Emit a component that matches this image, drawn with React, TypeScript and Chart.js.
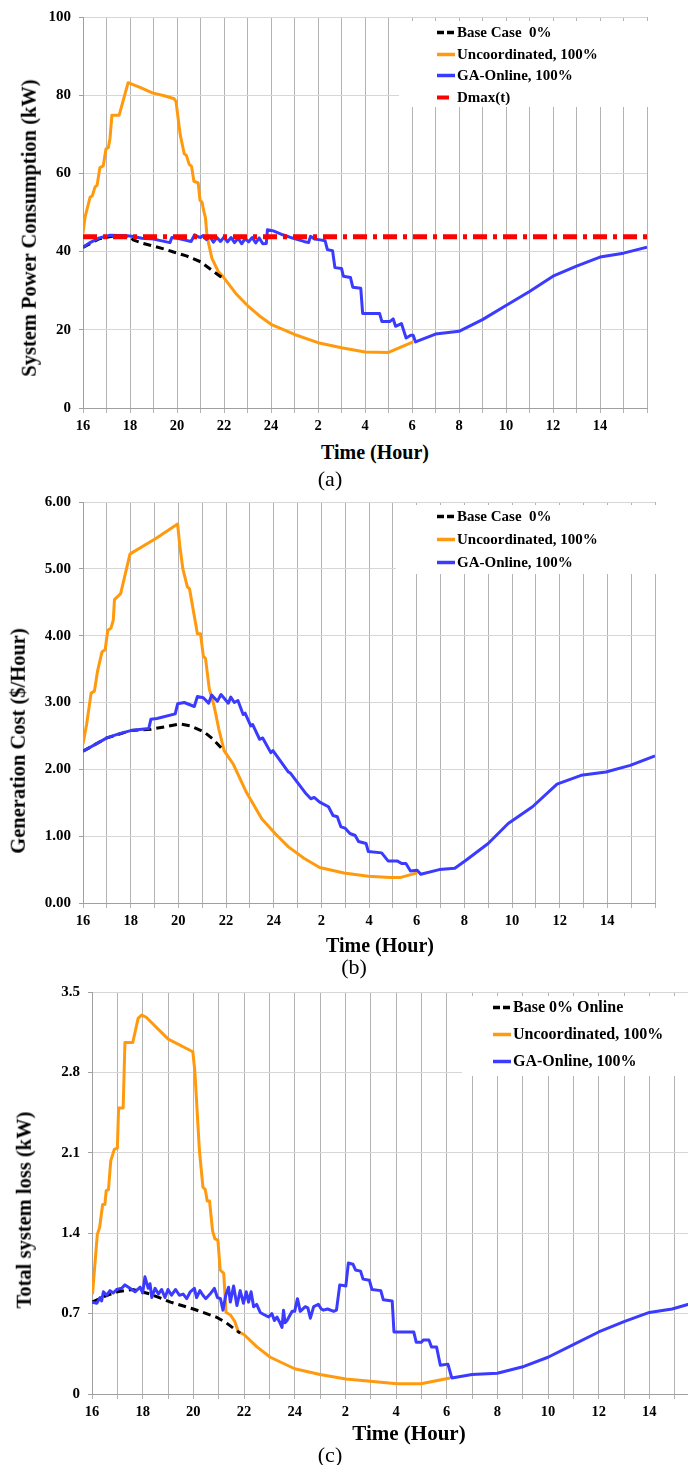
import React, { useEffect, useRef } from 'react';
import { Chart, registerables } from 'chart.js';

Chart.register(...registerables);

const SERIF = '"Liberation Serif", "Times New Roman", Times, serif';

type Pt = [number, number];

// ---------- Shared ----------
const hourTicks = [16, 18, 20, 22, 24, 2, 4, 6, 8, 10, 12, 14];
const legendLabels = ['Base Case  0%', 'Uncoordinated, 100%', 'GA-Online, 100%', 'Dmax(t)'];
const legendLabelsC = ['Base 0% Online', 'Uncoordinated, 100%', 'GA-Online, 100%'];

// ---------- (a) System Power Consumption (kW) ----------
const powerBase: Pt[] = [
  [0, 41.1], [0.7, 43.3], [1.3, 44.0], [2.0, 43.9], [2.13, 43.0], [2.5, 42.2], [3.0, 41.4], [3.5, 40.6],
  [3.85, 39.9], [4.4, 38.9], [5.0, 37.4], [5.4, 35.6], [5.83, 33.7], [6.0, 33.3],
];
const powerUncoordinated: Pt[] = [
  [0, 44.7], [0.09, 48.9], [0.3, 53.9], [0.4, 54.3], [0.51, 56.5], [0.6, 57.0], [0.72, 61.5], [0.86, 61.9],
  [0.98, 66.3], [1.08, 66.6], [1.15, 69.0], [1.23, 74.9], [1.54, 74.9], [1.92, 83.2], [2.5, 81.8], [2.95, 80.6],
  [3.5, 79.8], [3.88, 79.1], [3.96, 78.3], [4.06, 73.5], [4.14, 69.8], [4.31, 65.0], [4.4, 64.6], [4.52, 62.3],
  [4.62, 61.8], [4.72, 58.0], [4.9, 57.6], [4.98, 53.1], [5.07, 52.6], [5.13, 50.6], [5.21, 48.7], [5.28, 43.8],
  [5.49, 38.2], [5.75, 35.0], [6.0, 33.3], [6.5, 29.3], [7.0, 26.2], [7.5, 23.6], [8.0, 21.4], [9.0, 18.8],
  [10.0, 16.7], [11.0, 15.4], [12.0, 14.3], [13.0, 14.2], [14.05, 16.9],
];
const powerGA: Pt[] = [
  [0, 41.1], [0.3, 42.3], [0.7, 43.5], [1.15, 44.2], [1.5, 44.1], [2.0, 44.0], [2.2, 43.8], [2.5, 43.4],
  [3.0, 43.2], [3.3, 42.8], [3.7, 42.3], [3.78, 43.6], [4.0, 43.4], [4.3, 43.0], [4.6, 42.6], [4.75, 44.3],
  [4.9, 43.8], [5.0, 43.6], [5.1, 44.1], [5.25, 43.1], [5.4, 43.8], [5.55, 42.4], [5.7, 43.6], [5.85, 42.6],
  [6.0, 43.7], [6.15, 42.5], [6.3, 43.6], [6.45, 42.3], [6.6, 43.4], [6.75, 42.0], [6.9, 43.3], [7.05, 42.5],
  [7.2, 43.6], [7.35, 42.2], [7.5, 43.5], [7.65, 42.0], [7.8, 42.1], [7.85, 45.6], [8.1, 45.3], [8.5, 44.3],
  [8.95, 43.4], [9.4, 42.6], [9.6, 42.3], [9.68, 43.9], [9.85, 43.2], [10.1, 43.0], [10.3, 42.8], [10.4, 40.5],
  [10.62, 40.2], [10.72, 35.9], [11.0, 35.7], [11.08, 33.7], [11.38, 33.4], [11.48, 30.9], [11.82, 30.6],
  [11.9, 24.2], [12.62, 24.2], [12.72, 22.1], [13.05, 22.1], [13.2, 22.8], [13.3, 20.9], [13.55, 21.6],
  [13.75, 17.9], [13.95, 18.6], [14.05, 18.6], [14.15, 16.9], [15.0, 18.9], [16.0, 19.6], [17.0, 22.6],
  [18.0, 26.2], [19.0, 29.8], [20.0, 33.7], [21.0, 36.3], [22.0, 38.6], [23.0, 39.6], [24.0, 41.1],
];
const powerDmax: Pt[] = [[0, 43.8], [24, 43.8]];
const powerTicks = [0, 20, 40, 60, 80, 100];

// ---------- (b) Generation Cost ($/Hour) ----------
const costBase: Pt[] = [
  [0, 2.27], [1.0, 2.47], [2.0, 2.58], [2.85, 2.6], [3.5, 2.64], [4.06, 2.68], [4.5, 2.65], [5.08, 2.56],
  [5.46, 2.45], [5.85, 2.3],
];
const costUncoordinated: Pt[] = [
  [0, 2.38], [0.15, 2.67], [0.34, 3.14], [0.48, 3.17], [0.61, 3.47], [0.8, 3.76], [0.93, 3.79], [1.04, 4.08],
  [1.17, 4.11], [1.27, 4.23], [1.32, 4.54], [1.58, 4.63], [1.97, 5.22], [2.1, 5.25], [3.04, 5.45], [3.97, 5.67],
  [4.06, 5.35], [4.19, 5.0], [4.38, 4.73], [4.47, 4.7], [4.8, 4.03], [4.93, 4.03], [5.05, 3.69], [5.14, 3.66],
  [5.3, 3.2], [5.5, 2.95], [5.7, 2.6], [5.92, 2.28], [6.3, 2.08], [6.85, 1.66], [7.5, 1.26], [8.06, 1.04],
  [8.62, 0.84], [9.27, 0.67], [9.93, 0.53], [10.95, 0.45], [11.97, 0.4], [12.9, 0.38], [13.3, 0.38], [14.02, 0.45],
];
const costGA: Pt[] = [
  [0, 2.27], [0.5, 2.37], [1.0, 2.47], [1.5, 2.53], [2.0, 2.58], [2.76, 2.61], [2.85, 2.75], [3.1, 2.76],
  [3.87, 2.83], [3.97, 2.98], [4.25, 3.0], [4.67, 2.94], [4.8, 3.09], [5.05, 3.07], [5.27, 2.99], [5.4, 3.11],
  [5.64, 3.02], [5.79, 3.12], [6.1, 2.99], [6.2, 3.08], [6.35, 3.0], [6.5, 3.03], [6.72, 2.82], [6.8, 2.84],
  [7.04, 2.65], [7.12, 2.67], [7.41, 2.45], [7.54, 2.47], [7.88, 2.25], [7.97, 2.28], [8.62, 1.96], [8.71, 1.94],
  [9.37, 1.63], [9.56, 1.56], [9.7, 1.58], [9.93, 1.51], [10.3, 1.44], [10.49, 1.31], [10.67, 1.29], [10.82, 1.14],
  [11.0, 1.12], [11.2, 1.04], [11.42, 1.01], [11.56, 0.92], [11.88, 0.89], [11.97, 0.77], [12.53, 0.75],
  [12.8, 0.63], [13.18, 0.63], [13.37, 0.59], [13.55, 0.59], [13.74, 0.48], [14.02, 0.49], [14.17, 0.43],
  [14.95, 0.5], [15.6, 0.52], [16.07, 0.64], [17.0, 0.89], [17.84, 1.19], [18.86, 1.44], [19.89, 1.78],
  [20.9, 1.91], [21.94, 1.96], [22.96, 2.06], [24.0, 2.2],
];
const costTicks = [0, 1, 2, 3, 4, 5, 6];

// ---------- (c) Total system loss (kW) ----------
const lossBase: Pt[] = [
  [0, 0.8], [0.5, 0.85], [1.0, 0.89], [1.6, 0.91], [2.3, 0.87], [3.1, 0.8], [4.0, 0.74], [4.9, 0.67],
  [5.3, 0.62], [5.6, 0.57], [5.85, 0.53],
];
const lossUncoordinated: Pt[] = [
  [0.02, 0.87], [0.21, 1.39], [0.3, 1.45], [0.42, 1.65], [0.51, 1.65], [0.56, 1.77], [0.65, 1.78], [0.74, 2.03],
  [0.88, 2.13], [1.0, 2.14], [1.05, 2.49], [1.23, 2.49], [1.3, 3.06], [1.61, 3.06], [1.82, 3.27], [1.96, 3.3],
  [2.14, 3.28], [3.01, 3.09], [3.98, 2.98], [4.06, 2.81], [4.24, 2.12], [4.38, 1.8], [4.47, 1.78], [4.55, 1.68],
  [4.64, 1.68], [4.76, 1.42], [4.85, 1.35], [4.97, 1.34], [5.06, 1.08], [5.2, 1.05], [5.29, 0.71], [5.46, 0.69],
  [5.64, 0.63], [5.78, 0.54], [5.99, 0.52], [6.51, 0.41], [7.04, 0.32], [8.0, 0.22], [9.0, 0.17], [10.02, 0.13],
  [10.98, 0.11], [12.03, 0.09], [12.99, 0.09], [14.13, 0.14],
];
const lossGA: Pt[] = [
  [0, 0.8], [0.19, 0.79], [0.32, 0.84], [0.38, 0.81], [0.45, 0.89], [0.58, 0.86], [0.71, 0.9], [0.84, 0.88],
  [0.97, 0.91], [1.17, 0.92], [1.3, 0.95], [1.5, 0.92], [1.7, 0.89], [1.9, 0.93], [2.0, 0.88], [2.09, 1.02],
  [2.22, 0.92], [2.29, 0.96], [2.36, 0.84], [2.49, 0.92], [2.62, 0.87], [2.75, 0.91], [2.88, 0.84], [3.0, 0.91],
  [3.14, 0.86], [3.3, 0.91], [3.45, 0.86], [3.6, 0.87], [3.74, 0.83], [3.88, 0.89], [4.04, 0.92], [4.13, 0.84],
  [4.26, 0.9], [4.38, 0.86], [4.49, 0.83], [4.66, 0.87], [4.83, 0.92], [4.95, 0.84], [5.07, 0.83], [5.17, 0.73],
  [5.28, 0.86], [5.39, 0.93], [5.46, 0.8], [5.59, 0.94], [5.72, 0.77], [5.85, 0.9], [5.98, 0.79], [6.09, 0.89],
  [6.18, 0.8], [6.28, 0.89], [6.38, 0.76], [6.5, 0.78], [6.64, 0.71], [6.8, 0.69], [6.97, 0.67], [7.1, 0.7],
  [7.2, 0.64], [7.3, 0.67], [7.42, 0.62], [7.5, 0.58], [7.56, 0.73], [7.62, 0.62], [7.7, 0.64], [7.9, 0.72],
  [8.0, 0.72], [8.11, 0.83], [8.22, 0.72], [8.42, 0.76], [8.52, 0.75], [8.62, 0.66], [8.75, 0.76], [8.94, 0.78],
  [9.05, 0.74], [9.14, 0.73], [9.3, 0.74], [9.54, 0.72], [9.65, 0.73], [9.78, 0.95], [10.02, 0.94], [10.12, 1.14],
  [10.3, 1.13], [10.4, 1.08], [10.6, 1.07], [10.7, 1.0], [10.95, 0.99], [11.05, 0.91], [11.4, 0.9], [11.5, 0.82],
  [11.85, 0.81], [11.92, 0.54], [12.7, 0.54], [12.8, 0.45], [13.0, 0.45], [13.08, 0.47], [13.3, 0.47],
  [13.4, 0.41], [13.6, 0.41], [13.75, 0.25], [14.05, 0.26], [14.2, 0.14], [15.0, 0.17], [16.0, 0.18],
  [17.05, 0.24], [18.0, 0.32], [19.0, 0.43], [20.0, 0.54], [21.0, 0.63], [22.0, 0.71], [22.9, 0.74], [24.0, 0.81],
];
const lossTicks = [0, 0.7, 1.4, 2.1, 2.8, 3.5];

// ---------- Styling ----------
const ORANGE = '#FF9A0E';
const BLUE = '#3B3BFF';
const RED = '#FF0000';
const BLACK = '#000000';

const toXY = (a: Pt[]) => a.map(([x, y]) => ({ x, y }));

const hourLabel = (v: number) => {
  if (v % 2 !== 0 || v >= 24) return '';
  return String(hourTicks[v / 2]);
};

const line = (label: string, data: Pt[], color: string, width: number, dash: number[] = []) => ({
  label,
  data: toXY(data),
  borderColor: color,
  backgroundColor: color,
  borderWidth: width,
  borderDash: dash,
  pointRadius: 0,
  pointHoverRadius: 0,
  tension: 0,
  fill: false,
  borderCapStyle: 'butt',
  borderJoinStyle: 'round',
});

interface LegendItem { label: string; dash: number[]; len: number; width: number; }

const insetLegend = {
  id: 'insetLegend',
  beforeDatasetsDraw(chart: any, _args: any, opts: any) {
    const { ctx, chartArea } = chart;
    ctx.save();
    ctx.fillStyle = '#ffffff';
    ctx.fillRect(chartArea.left + opts.box.x, chartArea.top + opts.box.y, opts.box.w, opts.box.h);
    ctx.font = `bold ${opts.font}px ${SERIF}`;
    ctx.textBaseline = 'middle';
    ctx.textAlign = 'left';
    (opts.items as LegendItem[]).forEach((it, i) => {
      const ds = chart.data.datasets.find((d: any) => d.label === it.label);
      if (!ds) return;
      const y = Math.round(chartArea.top + opts.rows[i]) + 0.5;
      const x0 = chartArea.left + opts.sampleX;
      ctx.beginPath();
      ctx.strokeStyle = ds.borderColor;
      ctx.lineWidth = it.width;
      ctx.lineCap = 'butt';
      ctx.setLineDash(it.dash);
      ctx.moveTo(x0, y);
      ctx.lineTo(x0 + it.len, y);
      ctx.stroke();
      ctx.setLineDash([]);
      ctx.fillStyle = '#000';
      ctx.fillText(it.label, x0 + 20, y + 0.5);
    });
    ctx.restore();
  },
};

interface PanelCfg {
  width: number;
  height: number;
  padTop: number;
  padRight: number;
  yWidth: number;
  xHeight: number;
  yTicks: number[];
  yFmt: (v: number) => string;
  datasets: any[];
  legend: any;
}

const buildConfig = (cfg: PanelCfg): any => {
  const yt = cfg.yTicks;
  return {
    type: 'line',
    data: { datasets: cfg.datasets },
    options: {
      responsive: false,
      animation: false,
      devicePixelRatio: 1,
      layout: { padding: { top: cfg.padTop, right: cfg.padRight, left: 0, bottom: 0 } },
      plugins: {
        legend: { display: false },
        tooltip: { enabled: false },
        insetLegend: cfg.legend,
      },
      scales: {
        x: {
          type: 'linear',
          min: 0,
          max: 24,
          afterFit: (s: any) => { s.height = cfg.xHeight; },
          ticks: {
            stepSize: 1,
            autoSkip: false,
            maxRotation: 0,
            padding: 5,
            color: '#000',
            font: { family: SERIF, weight: 'bold', size: 14.5 },
            callback: (v: number) => hourLabel(v),
          },
          grid: { color: '#b3b3b3', lineWidth: 1, tickLength: 5, tickColor: '#b3b3b3' },
          border: { color: '#a0a0a0', width: 1 },
        },
        y: {
          type: 'linear',
          min: yt[0],
          max: yt[yt.length - 1],
          afterFit: (s: any) => { s.width = cfg.yWidth; },
          ticks: {
            stepSize: yt[1] - yt[0],
            padding: 8,
            color: '#000',
            font: { family: SERIF, weight: 'bold', size: 15 },
            callback: (v: number) => cfg.yFmt(v),
          },
          grid: { color: '#d6d6d6', lineWidth: 1, tickLength: 4, tickColor: '#a0a0a0' },
          border: { color: '#a0a0a0', width: 1 },
        },
      },
    },
    plugins: [insetLegend],
  };
};

const legendItemsABase: LegendItem[] = [
  { label: legendLabels[0], dash: [7, 3], len: 17, width: 3.5 },
  { label: legendLabels[1], dash: [], len: 18, width: 3.5 },
  { label: legendLabels[2], dash: [], len: 18, width: 3.5 },
];

const panelA: PanelCfg = {
  width: 688, height: 440, padTop: 10, padRight: 41, yWidth: 83, xHeight: 32,
  yTicks: powerTicks,
  yFmt: (v) => String(v),
  datasets: [
    line(legendLabels[3], powerDmax, RED, 5, [14, 6, 4, 6]),
    line(legendLabels[2], powerGA, BLUE, 3),
    line(legendLabels[0], powerBase, BLACK, 3, [8, 5]),
    line(legendLabels[1], powerUncoordinated, ORANGE, 3),
  ],
  legend: {
    box: { x: 316, y: 4, w: 251, h: 86 },
    sampleX: 354,
    rows: [15, 37, 58, 80],
    font: 15,
    items: [...legendItemsABase, { label: legendLabels[3], dash: [], len: 12, width: 4 }],
  },
};

const panelB: PanelCfg = {
  width: 688, height: 450, padTop: 14, padRight: 33, yWidth: 83, xHeight: 32,
  yTicks: costTicks,
  yFmt: (v) => v.toFixed(2),
  datasets: [
    line(legendLabels[2], costGA, BLUE, 3),
    line(legendLabels[0], costBase, BLACK, 3, [8, 5]),
    line(legendLabels[1], costUncoordinated, ORANGE, 3),
  ],
  legend: {
    box: { x: 313, y: 3, w: 262, h: 69 },
    sampleX: 354,
    rows: [14, 37, 60],
    font: 15,
    items: legendItemsABase,
  },
};

const panelC: PanelCfg = {
  width: 720, height: 450, padTop: 16, padRight: 20, yWidth: 92, xHeight: 31,
  yTicks: lossTicks,
  yFmt: (v) => (v === 0 ? '0' : v.toFixed(1)),
  datasets: [
    line(legendLabelsC[2], lossGA, BLUE, 3),
    line(legendLabelsC[0], lossBase, BLACK, 3, [8, 5]),
    line(legendLabelsC[1], lossUncoordinated, ORANGE, 3),
  ],
  legend: {
    box: { x: 370, y: 4, w: 260, h: 80 },
    sampleX: 401,
    rows: [15, 42, 69],
    font: 16,
    items: [
      { label: legendLabelsC[0], dash: [7, 3], len: 17, width: 3.5 },
      { label: legendLabelsC[1], dash: [], len: 18, width: 3.5 },
      { label: legendLabelsC[2], dash: [], len: 18, width: 3.5 },
    ],
  },
};

function ChartPanel({ cfg, top }: { cfg: PanelCfg; top: number }) {
  const ref = useRef<HTMLCanvasElement | null>(null);
  useEffect(() => {
    if (!ref.current) return;
    const chart = new Chart(ref.current, buildConfig(cfg));
    return () => chart.destroy();
  }, [cfg]);
  return (
    <canvas
      ref={ref}
      width={cfg.width}
      height={cfg.height}
      style={{ position: 'absolute', left: 0, top, width: cfg.width, height: cfg.height }}
    />
  );
}

function Txt({ x, y, size, bold, rotate, children }: { x: number; y: number; size: number; bold?: boolean; rotate?: boolean; children: React.ReactNode }) {
  return (
    <div
      style={{
        position: 'absolute',
        left: x,
        top: y,
        transform: `translate(-50%, -50%)${rotate ? ' rotate(-90deg)' : ''}`,
        fontFamily: SERIF,
        fontSize: size,
        fontWeight: bold ? 700 : 400,
        whiteSpace: 'nowrap',
        lineHeight: 1,
        color: '#000',
      }}
    >
      {children}
    </div>
  );
}

export default function App() {
  return (
    <div style={{ position: 'absolute', left: 0, top: 0, width: 688, height: 1465, overflow: 'hidden', background: '#fff' }}>
      <ChartPanel cfg={panelA} top={0} />
      <ChartPanel cfg={panelB} top={485} />
      <ChartPanel cfg={panelC} top={975} />

      <Txt x={29} y={228} size={20.5} bold rotate>System Power Consumption (kW)</Txt>
      <Txt x={375} y={452} size={20} bold>Time (Hour)</Txt>
      <Txt x={330} y={479} size={22}>(a)</Txt>

      <Txt x={18} y={741} size={20.5} bold rotate>Generation Cost ($/Hour)</Txt>
      <Txt x={380} y={945} size={20} bold>Time (Hour)</Txt>
      <Txt x={354} y={967} size={22}>(b)</Txt>

      <Txt x={24} y={1210} size={20.5} bold rotate>Total system loss (kW)</Txt>
      <Txt x={409} y={1433} size={21} bold>Time (Hour)</Txt>
      <Txt x={330} y={1455} size={22}>(c)</Txt>
    </div>
  );
}
